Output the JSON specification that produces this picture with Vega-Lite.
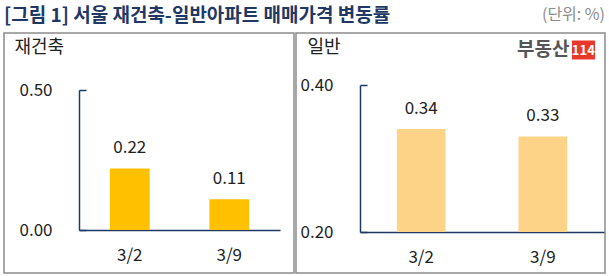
{
  "$schema": "https://vega.github.io/schema/vega-lite/v6.json",
  "padding": {"left": 3, "top": 5, "right": 4, "bottom": 3},
  "bounds": "flush",
  "spacing": 2,
  "config": {
    "font": "Noto Sans CJK KR",
    "view": {"stroke": "#8c8c8c", "strokeWidth": 1.5},
    "axis": {"grid": false, "labelFont": "Noto Sans CJK KR", "titleFont": "Noto Sans CJK KR"}
  },
  "hconcat": [
    {
      "width": 290,
      "height": 240,
      "title": {"text": "[그림 1] 서울 재건축-일반아파트 매매가격 변동률", "anchor": "start", "frame": "group", "fontSize": 19, "fontWeight": "bold", "color": "#1f3864", "baseline": "middle", "offset": -2},
      "data": {"values": [{"date": "3/2", "value": 0.22}, {"date": "3/9", "value": 0.11}]},
      "layer": [
        {
          "mark": {"type": "bar", "color": "#FFC000"},
          "encoding": {
            "x": {"field": "date", "type": "ordinal", "sort": null,
              "scale": {"range": [75, 276], "paddingInner": 0.6, "paddingOuter": 0.31},
              "axis": {"orient": "bottom", "offset": -43, "title": null, "ticks": false, "domainColor": "#1f3864", "domainWidth": 1.5, "labelFontSize": 17, "labelColor": "#222222", "labelPadding": 17, "labelAngle": 0}},
            "y": {"field": "value", "type": "quantitative",
              "scale": {"domain": [0, 0.5], "range": [197, 57], "nice": false, "zero": false},
              "axis": {"values": [0, 0.5], "format": ".2f", "offset": -75, "tickSize": -7, "tickColor": "#1f3864", "tickWidth": 1.5, "domainColor": "#1f3864", "domainWidth": 1.5, "labelFontSize": 17, "labelColor": "#222222", "labelPadding": 34,
                "title": "재건축", "titleAngle": 0, "titleX": -65, "titleY": 14, "titleAlign": "left", "titleBaseline": "middle", "titleFontSize": 18, "titleFontWeight": "normal", "titleColor": "#222222"}},
            "y2": {"datum": 0}
          }
        },
        {
          "mark": {"type": "text", "baseline": "middle", "dy": -20, "fontSize": 17, "color": "#222222"},
          "encoding": {
            "x": {"field": "date", "type": "ordinal", "sort": null},
            "y": {"field": "value", "type": "quantitative"},
            "text": {"field": "value", "type": "quantitative", "format": ".2f"}
          }
        }
      ]
    },
    {
      "width": 309,
      "height": 240,
      "title": {"text": "(단위: %)", "anchor": "end", "frame": "group", "fontSize": 16, "fontWeight": "normal", "color": "#8c8c8c", "baseline": "middle", "offset": -2},
      "data": {"values": [{"date": "3/2", "value": 0.34}, {"date": "3/9", "value": 0.33}]},
      "resolve": {"axis": {"x": "independent"}},
      "layer": [
        {
          "mark": {"type": "bar", "color": "#FDD387"},
          "encoding": {
            "x": {"field": "date", "type": "ordinal", "sort": null,
              "scale": {"range": [64, 308], "paddingInner": 0.6, "paddingOuter": 0.303},
              "axis": {"orient": "bottom", "offset": -41, "ticks": false, "domainColor": "#1f3864", "domainWidth": 1.5, "labelFontSize": 17, "labelColor": "#222222", "labelPadding": 17, "labelAngle": 0,
                "title": "부동산", "titleX": 273, "titleY": -182.5, "titleAlign": "right", "titleBaseline": "middle", "titleFontSize": 19, "titleFontWeight": "bold", "titleColor": "#555555"}},
            "y": {"field": "value", "type": "quantitative",
              "scale": {"domain": [0.2, 0.4], "range": [199, 52], "nice": false, "zero": false},
              "axis": {"values": [0.2, 0.4], "format": ".2f", "offset": -64, "tickSize": -7, "tickColor": "#1f3864", "tickWidth": 1.5, "domainColor": "#1f3864", "domainWidth": 1.5, "labelFontSize": 17, "labelColor": "#222222", "labelPadding": 34,
                "title": "일반", "titleAngle": 0, "titleX": -53, "titleY": 14, "titleAlign": "left", "titleBaseline": "middle", "titleFontSize": 18, "titleFontWeight": "normal", "titleColor": "#222222"}},
            "y2": {"datum": 0.2}
          }
        },
        {
          "mark": {"type": "text", "baseline": "middle", "dy": -20, "fontSize": 17, "color": "#222222"},
          "encoding": {
            "x": {"field": "date", "type": "ordinal", "sort": null,
              "axis": {"orient": "top", "values": ["3/9"], "offset": -26, "domain": false, "title": null, "tickColor": "#E8382C", "tickWidth": 23, "tickSize": 19, "tickOffset": 40, "labelExpr": "'114'", "labelColor": "#ffffff", "labelFontWeight": "bold", "labelFontSize": 13, "labelPadding": -10, "labelBaseline": "middle", "labelAngle": 0}},
            "y": {"field": "value", "type": "quantitative"},
            "text": {"field": "value", "type": "quantitative", "format": ".2f"}
          }
        }
      ]
    }
  ]
}
